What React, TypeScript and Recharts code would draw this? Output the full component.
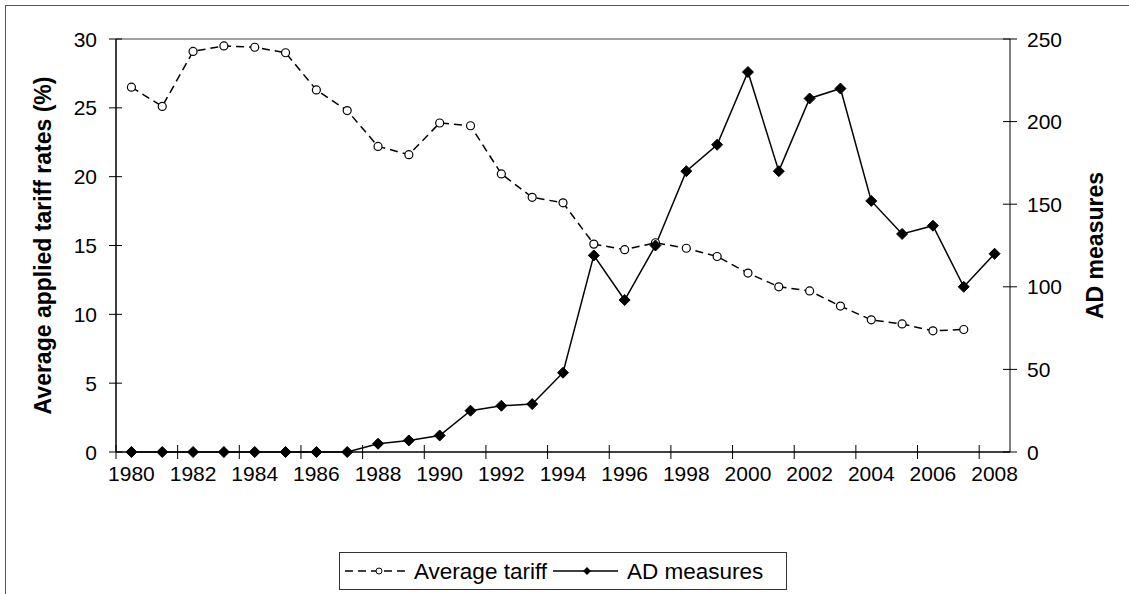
import React from 'react';
import { ComposedChart, Line, XAxis, YAxis, ReferenceLine, Legend } from 'recharts';

const years = [1980, 1981, 1982, 1983, 1984, 1985, 1986, 1987, 1988, 1989, 1990, 1991, 1992, 1993, 1994, 1995, 1996, 1997, 1998, 1999, 2000, 2001, 2002, 2003, 2004, 2005, 2006, 2007, 2008];
const tariff = [26.5, 25.1, 29.1, 29.5, 29.4, 29.0, 26.3, 24.8, 22.2, 21.6, 23.9, 23.7, 20.2, 18.5, 18.1, 15.1, 14.7, 15.2, 14.8, 14.2, 13.0, 12.0, 11.7, 10.6, 9.6, 9.3, 8.8, 8.9, null];
const adMeasures = [0, 0, 0, 0, 0, 0, 0, 0, 5, 7, 10, 25, 28, 29, 48, 119, 92, 125, 170, 186, 230, 170, 214, 220, 152, 132, 137, 100, 120];

const xLabelTicks = [1980, 1982, 1984, 1986, 1988, 1990, 1992, 1994, 1996, 1998, 2000, 2002, 2004, 2006, 2008];
const xBoundaryTicks = [1979.5, 1981.5, 1983.5, 1985.5, 1987.5, 1989.5, 1991.5, 1993.5, 1995.5, 1997.5, 1999.5, 2001.5, 2003.5, 2005.5, 2007.5];
const leftTicks = [0, 5, 10, 15, 20, 25, 30];
const rightTicks = [0, 50, 100, 150, 200, 250];
const seriesNames = ['Average tariff', 'AD measures'];
const leftTitle = 'Average applied tariff rates (%)';
const rightTitle = 'AD measures';

const data = years.map((year, i) => ({ year, tariff: tariff[i], ad: adMeasures[i] }));
const xTicks = [...xBoundaryTicks, ...xLabelTicks].sort((a, b) => a - b);

const FONT = '"Liberation Sans", Arial, Helvetica, sans-serif';

const XTick = (props: any) => {
  const { x, y, payload } = props;
  const v = payload.value;
  if (Number.isInteger(v)) {
    return (
      <text x={x} y={y} dy={29} textAnchor="middle" fontSize={21} fontFamily={FONT} fill="#000">
        {v}
      </text>
    );
  }
  return <line x1={x} x2={x} y1={y - 7} y2={y + 7} stroke="#000" strokeWidth={1} />;
};

const LeftTick = (props: any) => {
  const { x, y, payload } = props;
  return (
    <g>
      <line x1={x - 7} x2={x + 6} y1={y} y2={y} stroke="#000" strokeWidth={1} />
      <text x={x - 19} y={y} dy={7.5} textAnchor="end" fontSize={21} fontFamily={FONT} fill="#000">
        {payload.value}
      </text>
    </g>
  );
};

const RightTick = (props: any) => {
  const { x, y, payload } = props;
  return (
    <g>
      <line x1={x - 7} x2={x + 7} y1={y} y2={y} stroke="#000" strokeWidth={1} />
      <text x={x + 17} y={y} dy={7.5} textAnchor="start" fontSize={21} fontFamily={FONT} fill="#000">
        {payload.value}
      </text>
    </g>
  );
};

const AxisTitle = (props: any) => {
  const { viewBox, value, offsetX } = props;
  if (!viewBox) return null;
  const cx = viewBox.x + offsetX;
  const cy = viewBox.y + viewBox.height / 2;
  return (
    <text
      x={cx}
      y={cy}
      transform={`rotate(-90, ${cx}, ${cy})`}
      textAnchor="middle"
      dominantBaseline="central"
      fontSize={23}
      fontWeight="bold"
      fontFamily={FONT}
      fill="#000"
    >
      {value}
    </text>
  );
};

const TariffDot = (props: any) => {
  const { cx, cy, index } = props;
  if (cx == null || cy == null || props.value == null) return <g key={`t-${index}`} />;
  return <circle key={`t-${index}`} cx={cx} cy={cy} r={4} fill="#fff" stroke="#000" strokeWidth={1.2} />;
};

const AdDot = (props: any) => {
  const { cx, cy, index } = props;
  if (cx == null || cy == null) return <g key={`a-${index}`} />;
  const s = 5.5;
  return (
    <path
      key={`a-${index}`}
      d={`M${cx},${cy - s}L${cx + s},${cy}L${cx},${cy + s}L${cx - s},${cy}Z`}
      fill="#000"
      stroke="#000"
      strokeWidth={1}
    />
  );
};

const LegendContent = () => (
  <svg width={448} height={38} style={{ display: 'block' }}>
    <rect x={0.5} y={0.5} width={447} height={37} fill="#fff" stroke="#333" strokeWidth={1} />
    <line x1={6} x2={68} y1={19} y2={19} stroke="#000" strokeWidth={1.5} strokeDasharray="8 5" />
    <circle cx={40} cy={19} r={3} fill="#fff" stroke="#000" strokeWidth={1} />
    <text x={75} y={27} fontSize={22.5} fontFamily={FONT} fill="#000">{seriesNames[0]}</text>
    <line x1={214} x2={279} y1={19} y2={19} stroke="#000" strokeWidth={1.5} />
    <path d="M248,15L252,19L248,23L244,19Z" fill="#000" />
    <text x={288} y={27} fontSize={22.5} fontFamily={FONT} fill="#000">{seriesNames[1]}</text>
  </svg>
);

export default function App() {
  return (
    <div
      style={{
        position: 'fixed',
        left: 0,
        top: 0,
        width: 1129,
        height: 594,
        overflow: 'hidden',
        background: '#fff',
        fontFamily: FONT,
      }}
    >
      <div
        style={{
          position: 'absolute',
          left: 5,
          top: 5,
          width: 1200,
          height: 700,
          border: '1px solid #555',
          boxSizing: 'border-box',
        }}
      />
      <div style={{ position: 'absolute', left: 0, top: 0 }}>
        <ComposedChart
          width={1129}
          height={594}
          data={data}
          margin={{ top: 39, right: 0, left: 0, bottom: 102 }}
        >
          <XAxis
            dataKey="year"
            type="number"
            domain={[1979.5, 2008.5]}
            ticks={xTicks}
            interval={0}
            tick={<XTick />}
            tickLine={false}
            tickSize={0}
            tickMargin={0}
            axisLine={{ stroke: '#000', strokeWidth: 1.5 }}
            height={40}
            allowDecimals
          />
          <YAxis
            yAxisId="left"
            orientation="left"
            domain={[0, 30]}
            ticks={leftTicks}
            interval={0}
            width={116}
            tick={<LeftTick />}
            tickLine={false}
            tickSize={0}
            tickMargin={0}
            axisLine={{ stroke: '#000', strokeWidth: 1.5 }}
            label={<AxisTitle value={leftTitle} offsetX={43} />}
          />
          <YAxis
            yAxisId="right"
            orientation="right"
            domain={[0, 250]}
            ticks={rightTicks}
            interval={0}
            width={119}
            tick={<RightTick />}
            tickLine={false}
            tickSize={0}
            tickMargin={0}
            axisLine={{ stroke: '#000', strokeWidth: 1 }}
            label={<AxisTitle value={rightTitle} offsetX={85} />}
          />
          <ReferenceLine yAxisId="left" y={30} stroke="#808080" strokeWidth={1.5} />
          <Line
            yAxisId="left"
            dataKey="tariff"
            name={seriesNames[0]}
            stroke="#000"
            strokeWidth={1.5}
            strokeDasharray="8 5"
            dot={TariffDot}
            activeDot={false}
            isAnimationActive={false}
            connectNulls={false}
          />
          <Line
            yAxisId="right"
            dataKey="ad"
            name={seriesNames[1]}
            stroke="#000"
            strokeWidth={1.5}
            dot={AdDot}
            activeDot={false}
            isAnimationActive={false}
          />
          <Legend
            layout="horizontal"
            verticalAlign="middle"
            align="center"
            content={<LegendContent />}
            wrapperStyle={{ position: 'absolute', left: 339, top: 552, width: 448, height: 38 }}
          />
        </ComposedChart>
      </div>
    </div>
  );
}
